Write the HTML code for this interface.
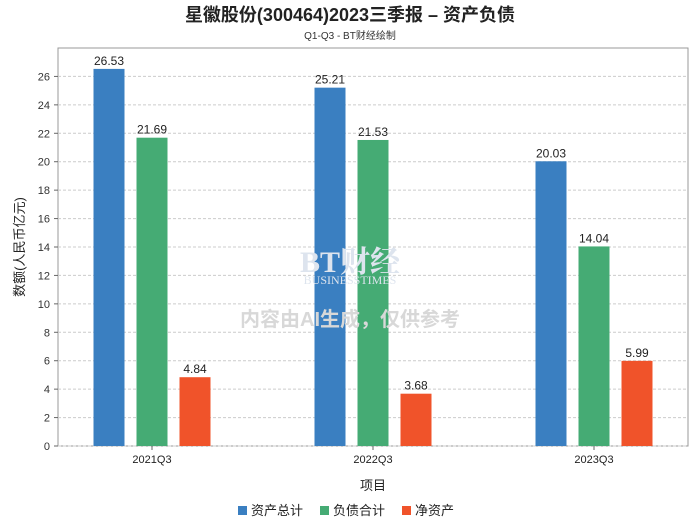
<!DOCTYPE html>
<html><head><meta charset="utf-8"><style>
body{margin:0;background:#fff;font-family:"Liberation Sans","Noto Sans CJK SC",sans-serif;}
#c{position:relative;width:700px;height:524px;overflow:hidden;}
</style></head><body>
<div id="c">
<svg id="s" width="700" height="524" xmlns="http://www.w3.org/2000/svg">
<text x="350" y="21" text-anchor="middle" font-size="18" font-weight="bold" fill="#222" font-family="Liberation Sans,Noto Sans CJK SC,sans-serif">星徽股份(300464)2023三季报 – 资产负债</text>
<text x="350" y="39" text-anchor="middle" font-size="10" fill="#333" font-family="Liberation Sans,Noto Sans CJK SC,sans-serif">Q1-Q3 - BT财经绘制</text>
<g id="plot"></g>
<g>
<text x="350" y="272" text-anchor="middle" font-size="30" font-weight="bold" fill="#dde4ee" font-family="Liberation Serif,Noto Serif CJK SC,serif">BT财经</text>
<text x="350" y="284" text-anchor="middle" font-size="12" fill="#dde4ee" font-family="Liberation Serif,serif">BUSINESSTIMES</text>
<text x="350" y="326" text-anchor="middle" font-size="20" font-weight="bold" fill="#d8d8d8" font-family="Liberation Sans,Noto Sans CJK SC,sans-serif">内容由AI生成，仅供参考</text>
</g>
<text transform="translate(24,247) rotate(-90)" text-anchor="middle" font-size="13" fill="#222" font-family="Liberation Sans,Noto Sans CJK SC,sans-serif">数额(人民币亿元)</text>
<text x="373" y="490" text-anchor="middle" font-size="13" fill="#222" font-family="Liberation Sans,Noto Sans CJK SC,sans-serif">项目</text>
<g id="legend"></g>
</svg>
</div>
<script>
const categories=["2021Q3","2022Q3","2023Q3"];
const seriesNames=["资产总计","负债合计","净资产"];
const totalAssets=[26.53,25.21,20.03];
const totalLiab=[21.69,21.53,14.04];
const netAssets=[4.84,3.68,5.99];
const yTicks=[0,2,4,6,8,10,12,14,16,18,20,22,24,26];
const colors=["#3a7fc1","#45ab74","#f0532a"];
const NS="http://www.w3.org/2000/svg";
const L=58,R=688,T=48,B=446,YMAX=28;
const y=v=>B-(v/YMAX)*(B-T);
const PAD=94;
const step=(R-L-2*PAD)/(categories.length-1);
const xc=i=>L+PAD+step*i;
const plot=document.getElementById('plot');
function mk(tag,attrs,parent){const e=document.createElementNS(NS,tag);for(const k in attrs)e.setAttribute(k,attrs[k]);parent.appendChild(e);return e;}
const bg=mk('rect',{x:L,y:T,width:R-L,height:B-T,fill:'#fff',stroke:'#999'},plot);


yTicks.forEach(t=>{
 const g=mk('line',{x1:L,x2:R,y1:y(t),y2:y(t),stroke:'#ccc','stroke-dasharray':'3,2'},plot);
 
 
 mk('line',{x1:L-4,x2:L,y1:y(t),y2:y(t),stroke:'#666'},plot);
 const tx=mk('text',{x:L-8,y:y(t)+4,'text-anchor':'end','font-size':11,fill:'#333'},plot);
 tx.textContent=t;
 
 
});
const series=[totalAssets,totalLiab,netAssets];
const bw=31,gap=12;
categories.forEach((c,i)=>{
 series.forEach((s,j)=>{
  const x=xc(i)+(j-1)*(bw+gap)-bw/2;
  const r=mk('rect',{x:x,y:y(s[i]),width:bw,height:B-y(s[i]),fill:colors[j]},plot);
  
  
  const t=mk('text',{x:x+bw/2,y:y(s[i])-4,'text-anchor':'middle','font-size':12,fill:'#222'},plot);
  t.textContent=s[i].toFixed(2);
  
  
 });
 mk('line',{x1:xc(i),x2:xc(i),y1:B,y2:B+4,stroke:'#666'},plot);
 const t=mk('text',{x:xc(i),y:B+17,'text-anchor':'middle','font-size':11,fill:'#222'},plot);
 t.textContent=c;
 
 
});
const lg=document.getElementById('legend');
const lx=[238,320,402];
seriesNames.forEach((n,j)=>{
 const r=mk('rect',{x:lx[j],y:506,width:9,height:9,fill:colors[j]},lg);
 
 
 const t=mk('text',{x:lx[j]+13,y:515,'font-size':13,fill:'#222'},lg);
 t.textContent=n;
 
 
});
</script>
</body></html>
